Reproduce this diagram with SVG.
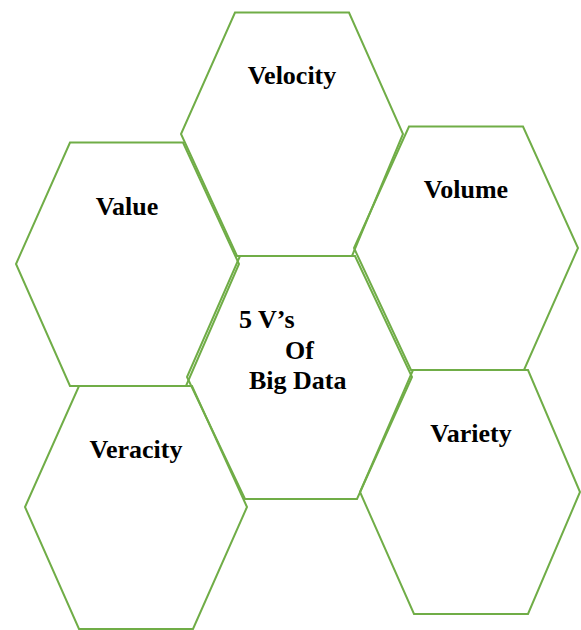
<svg xmlns="http://www.w3.org/2000/svg" width="581" height="630" viewBox="0 0 581 630">
  <style>
    .hex { fill: none; stroke: #70AD47; stroke-width: 2; stroke-linejoin: miter; }
    .lbl { font-family: "Liberation Serif", "Times New Roman", serif; font-weight: bold; font-size: 26px; fill: #000; }
  </style>
  <rect width="581" height="630" fill="#fff"/>
  <g id="velocity">
    <polygon class="hex" points="235,12.5 349,12.5 403,134 352,256 237,256 181,134"/>
    <text class="lbl" x="292" y="84" text-anchor="middle">Velocity</text>
  </g>
  <g id="value">
    <polygon class="hex" points="70,142.5 183,142.5 239,264 186,386 70,386 16,264"/>
    <text class="lbl" x="127" y="215" text-anchor="middle">Value</text>
  </g>
  <g id="volume">
    <polygon class="hex" points="409,126.5 523,126.5 578,248 524,370 411,370 354,248"/>
    <text class="lbl" x="466" y="198" text-anchor="middle">Volume</text>
  </g>
  <g id="center">
    <polygon class="hex" points="240,256 355,256 412,377 357,499 245,499 187,377"/>
    <text class="lbl" x="239" y="328">5 V’s</text>
    <text class="lbl" x="285" y="359">Of</text>
    <text class="lbl" x="249" y="389">Big Data</text>
  </g>
  <g id="veracity">
    <polygon class="hex" points="79,386 192,386 247,507 193,629 79,629 25,507"/>
    <text class="lbl" x="136" y="458" text-anchor="middle">Veracity</text>
  </g>
  <g id="variety">
    <polygon class="hex" points="413,370 528,370 580,492 528,614 414,614 360,492"/>
    <text class="lbl" x="471" y="442" text-anchor="middle">Variety</text>
  </g>
  <g id="connectors"/>
</svg>
